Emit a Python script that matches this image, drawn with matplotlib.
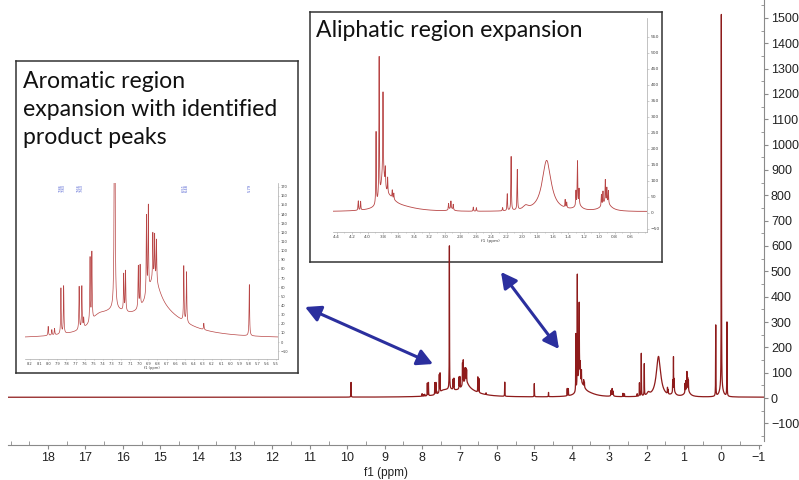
import numpy as np
import matplotlib.pyplot as plt
from matplotlib.ticker import MultipleLocator, FormatStrFormatter

# sharp lines: shift (ppm) and height
sharp_ppm = [9.90, 8.00, 7.96, 7.93, 7.86, 7.83, 7.66, 7.63, 7.61, 7.54, 7.52,
             7.27, 7.17, 7.15, 7.01, 6.99, 6.92, 6.90, 6.85, 6.83, 6.81, 6.51,
             6.48, 6.29, 5.79, 5.00, 4.62, 4.12, 4.09, 3.89, 3.85, 3.80, 3.77,
             3.74, 3.68, 3.66, 2.95, 2.92, 2.89, 2.63, 2.59, 2.25, 2.19, 2.14,
             2.06, 1.44, 1.42, 1.30, 1.28, 1.26, 0.97, 0.95, 0.92, 0.90, 0.88,
             0.15, 0.00, -0.15]
sharp_height = [58, 10, 6, 7, 50, 52, 47, 46, 10, 70, 74,
                565, 40, 44, 46, 45, 86, 92, 50, 48, 46, 60,
                55, 7, 56, 52, 17, 29, 27, 225, 440, 250, 58,
                48, 24, 19, 19, 23, 17, 13, 11, 10, 52, 168,
                125, 24, 17, 45, 135, 48, 35, 40, 70, 45, 40,
                280, 1470, 292]

# broad humps: centre (ppm), height, half width (ppm)
broad_ppm = [7.28, 7.45, 6.84, 6.78, 3.80, 3.72, 3.55, 2.92, 1.95, 1.68, 1.27, 0.91, 0.00]
broad_height = [20, 10, 37, 25, 95, 33, 12, 8, 12, 160, 17, 28, 40]
broad_hw = [0.20, 0.10, 0.09, 0.35, 0.03, 0.10, 0.25, 0.03, 0.04, 0.07, 0.05, 0.07, 0.05]

sharp_hw = 0.0035
offset = 3

# labelled product peaks in the aromatic expansion
label_ppm = [7.86, 7.83, 7.66, 7.63, 6.51, 6.48, 5.79]

ppm = np.arange(-1.2, 19.2, 0.0005)
spec = np.full_like(ppm, offset, dtype=float)
for c, h in zip(sharp_ppm, sharp_height):
    spec += h / (1 + ((ppm - c) / sharp_hw) ** 2)
for c, h, w in zip(broad_ppm, broad_height, broad_hw):
    spec += h / (1 + ((ppm - c) / w) ** 2)

W, H = 799, 480
fig = plt.figure(figsize=(W / 100, H / 100), dpi=100)


def px_axes(left, top, right, bottom, **kw):
    return fig.add_axes([left / W, 1 - bottom / H, (right - left) / W, (bottom - top) / H], **kw)


# main spectrum
ax = px_axes(8, 0, 764, 445)
ax.set_zorder(3)
ax.patch.set_alpha(0)
ax.plot(ppm, spec, color="#8e1b1b", lw=0.9)
ax.set_xlim(19.07, -1.14)
ax.set_ylim(-185.5, 1571)
for s in ["top", "left"]:
    ax.spines[s].set_visible(False)
ax.spines["bottom"].set_bounds(19.07, -1.06)
ax.spines["right"].set_bounds(-170, 1571)
for s in ["bottom", "right"]:
    ax.spines[s].set_color("#8a8a8a")
ax.yaxis.tick_right()
ax.xaxis.set_minor_locator(MultipleLocator(0.5))
ax.yaxis.set_minor_locator(MultipleLocator(50))
ax.set_xticks(np.arange(18, -2, -1))
ax.set_yticks(np.arange(-100, 1600, 100))
ax.tick_params(which="major", length=3, pad=2, color="#8a8a8a", labelsize=9, labelcolor="#222222")
ax.tick_params(axis="x", which="minor", direction="in", length=3, color="#8a8a8a")
ax.tick_params(axis="y", which="minor", direction="in", length=2, color="#8a8a8a")
for lab in ax.get_xticklabels() + ax.get_yticklabels():
    lab.set_family("Liberation Sans")
ax.set_xlabel("f1 (ppm)", fontsize=8.5, family="Liberation Sans", labelpad=0, color="#222222")
ax.xaxis.set_label_coords(0.5, -0.05)

arrow_kw = dict(arrowstyle="<|-|>,head_length=0.85,head_width=0.45", color="#2b2f9e",
                lw=2.2, mutation_scale=11, shrinkA=0, shrinkB=0)
ax.annotate("", xy=(433, H - 364), xytext=(305, H - 307), xycoords="figure pixels",
            textcoords="figure pixels", arrowprops=arrow_kw)
ax.annotate("", xy=(559, H - 349), xytext=(501, H - 272), xycoords="figure pixels",
            textcoords="figure pixels", arrowprops=arrow_kw)

title_font = dict(family="Lato", fontsize=16.6, color="#111111")
inset_color = "#b84545"

# aromatic expansion
panel = px_axes(16, 61, 298, 373)
panel.set_xticks([])
panel.set_yticks([])
for s in panel.spines.values():
    s.set_color("#333333")
    s.set_linewidth(1.1)
for i, line in enumerate(["Aromatic region", "expansion with identified", "product peaks"]):
    fig.text(23 / W, 1 - (88 + 28 * i) / H, line, va="baseline", **title_font)

ar = px_axes(25, 183, 278, 359)
ar.plot(ppm, spec, color=inset_color, lw=0.5)
ar.set_xlim(8.255, 5.475)
ar.set_ylim(-18.6, 174)
ar.patch.set_alpha(0)
for s in ["top", "left"]:
    ar.spines[s].set_visible(False)
for s in ["bottom", "right"]:
    ar.spines[s].set_color("#aaaaaa")
    ar.spines[s].set_linewidth(0.5)
ar.yaxis.tick_right()
ar.set_xticks(np.round(np.arange(8.2, 5.45, -0.1), 1))
ar.set_yticks(np.arange(-10, 171, 10))
ar.xaxis.set_major_formatter(FormatStrFormatter("%.1f"))
ar.tick_params(length=1, width=0.4, pad=1, labelsize=2.6, color="#aaaaaa", labelcolor="#444444")
ar.set_xlabel("f1 (ppm)", fontsize=2.6, labelpad=0, color="#444444")
for p in label_ppm:
    ar.text(p, 0.995, "%.2f" % p, rotation=90, va="top", ha="center", fontsize=2.6,
            color="#4b5bd0", transform=ar.get_xaxis_transform())

# aliphatic expansion
panel2 = px_axes(310, 12, 662, 262)
panel2.set_xticks([])
panel2.set_yticks([])
for s in panel2.spines.values():
    s.set_color("#333333")
    s.set_linewidth(1.1)
fig.text(316 / W, 1 - 37 / H, "Aliphatic region expansion", va="baseline", **title_font)

al = px_axes(333, 18, 647, 232)
al.plot(ppm, spec, color=inset_color, lw=0.6)
al.set_xlim(4.448, 0.38)
al.set_ylim(-59.4, 609)
al.patch.set_alpha(0)
for s in ["top", "left"]:
    al.spines[s].set_visible(False)
for s in ["bottom", "right"]:
    al.spines[s].set_color("#aaaaaa")
    al.spines[s].set_linewidth(0.5)
al.yaxis.tick_right()
al.set_xticks(np.round(np.arange(4.4, 0.55, -0.2), 1))
al.set_yticks(np.arange(-50, 551, 50))
al.xaxis.set_minor_locator(MultipleLocator(0.1))
al.xaxis.set_major_formatter(FormatStrFormatter("%.1f"))
al.tick_params(length=1.5, width=0.4, pad=1, labelsize=3.2, color="#aaaaaa", labelcolor="#444444")
al.tick_params(which="minor", length=1, width=0.4, color="#aaaaaa")
al.set_xlabel("f1 (ppm)", fontsize=3.2, labelpad=0, color="#444444")

fig.savefig("out.png", dpi=100)
